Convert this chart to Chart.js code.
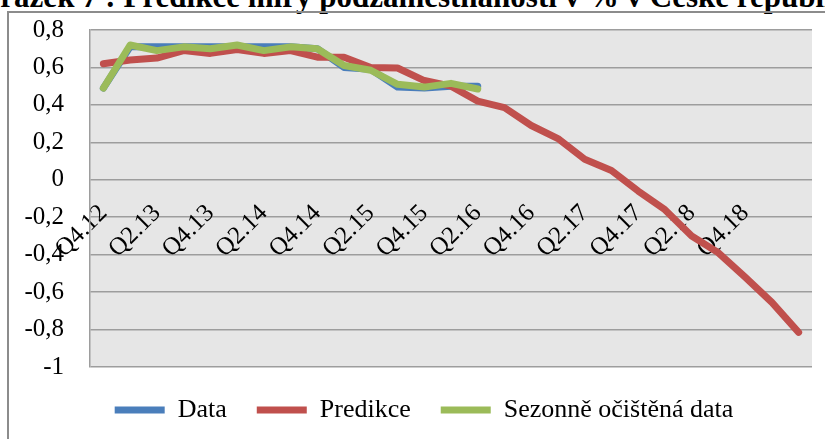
<!DOCTYPE html>
<html>
<head>
<meta charset="utf-8">
<script src="https://cdn.jsdelivr.net/npm/chart.js@4"></script>
<style>
  html, body { margin: 0; padding: 0; background: #fff; overflow: hidden; }
  #page { position: relative; width: 825px; height: 439px; overflow: hidden; }
  #title {
    position: absolute; left: -41px; top: -19px; white-space: nowrap;
    font: bold 31px "Liberation Serif", serif; line-height: 1; color: #000;
  }
  #frame {
    position: absolute; left: 7px; top: 11px; width: 900px; height: 500px;
    border: 2px solid #8c8c8c; box-sizing: border-box;
  }
  #chart { position: absolute; left: 0; top: 0; }
</style>
</head>
<body>
<div id="page">
  <div id="title">Obrázek 7 : Predikce míry podzaměstnanosti v % v České republice</div>
  <div id="frame"></div>
  <canvas id="chart" width="825" height="439"></canvas>
</div>
<script>
// Quarters on the category axis (Q4 2012 .. Q2 2019)
const quarters = [
  'Q4.12', 'Q1.13', 'Q2.13', 'Q3.13', 'Q4.13', 'Q1.14', 'Q2.14', 'Q3.14', 'Q4.14',
  'Q1.15', 'Q2.15', 'Q3.15', 'Q4.15', 'Q1.16', 'Q2.16', 'Q3.16', 'Q4.16',
  'Q1.17', 'Q2.17', 'Q3.17', 'Q4.17', 'Q1.18', 'Q2.18', 'Q3.18', 'Q4.18',
  'Q1.19', 'Q2.19'
];

// Only every other quarter is labelled
const tickLabels = [
  'Q4.12', '', 'Q2.13', '', 'Q4.13', '', 'Q2.14', '', 'Q4.14',
  '', 'Q2.15', '', 'Q4.15', '', 'Q2.16', '', 'Q4.16',
  '', 'Q2.17', '', 'Q4.17', '', 'Q2.18', '', 'Q4.18',
  '', ''
];

const dataValues = [
  0.49, 0.71, 0.71, 0.71, 0.71, 0.71, 0.71, 0.71, 0.70,
  0.60, 0.59, 0.495, 0.49, 0.50, 0.50
];

const predictionValues = [
  0.62, 0.64, 0.65, 0.69, 0.675, 0.695, 0.675, 0.69, 0.655,
  0.655, 0.60, 0.597, 0.53, 0.50, 0.42, 0.385, 0.29,
  0.22, 0.11, 0.05, -0.06, -0.16, -0.30, -0.39, -0.52,
  -0.655, -0.815
];

const seasonalValues = [
  0.49, 0.72, 0.69, 0.71, 0.70, 0.72, 0.69, 0.71, 0.70,
  0.61, 0.585, 0.51, 0.495, 0.515, 0.485
];

const serif = '"Liberation Serif", "Times New Roman", serif';
const gridColor = '#9d9d9d';

// grey plot area like the Excel original
const plotBackground = {
  id: 'plotBackground',
  beforeDraw(chart) {
    const { ctx, chartArea: a } = chart;
    ctx.save();
    ctx.fillStyle = '#e6e6e6';
    ctx.fillRect(a.left, a.top, a.right - a.left, a.bottom - a.top);
    ctx.restore();
  }
};

// the layout padding alone decides where the plot sits
function noScalePadding(scale) {
  scale.paddingTop = 0;
  scale.paddingBottom = 0;
  scale.paddingLeft = 0;
  scale.paddingRight = 0;
}

function lineSeries(label, values, color, order) {
  return {
    label: label,
    data: values,
    borderColor: color,
    backgroundColor: color,
    borderWidth: 7,
    borderCapStyle: 'round',
    borderJoinStyle: 'round',
    pointRadius: 0,
    tension: 0,
    order: order
  };
}

new Chart(document.getElementById('chart'), {
  type: 'line',
  data: {
    labels: quarters,
    datasets: [
      lineSeries('Data', dataValues, '#4a7ebb', 3),
      lineSeries('Predikce', predictionValues, '#c0504d', 2),
      lineSeries('Sezonně očištěná data', seasonalValues, '#9bbb59', 1)
    ]
  },
  options: {
    responsive: false,
    animation: false,
    layout: { padding: { left: 23, right: 0, top: 30, bottom: 6 } },
    plugins: {
      tooltip: { enabled: false },
      legend: {
        position: 'bottom',
        labels: {
          usePointStyle: true,
          pointStyle: 'line',
          pointStyleWidth: 50,
          padding: 30,
          color: '#000',
          font: { family: serif, size: 26 },
          sort: (a, b) => a.datasetIndex - b.datasetIndex
        }
      }
    },
    scales: {
      x: {
        type: 'category',
        position: { y: 0 },
        offset: true,
        afterFit: noScalePadding,
        grid: { display: false, drawTicks: false },
        border: { display: false },
        ticks: {
          autoSkip: false,
          minRotation: 45,
          maxRotation: 45,
          padding: 19,
          color: '#000',
          font: { family: serif, size: 25 },
          callback: (value, index) => tickLabels[index]
        }
      },
      y: {
        min: -1,
        max: 0.8,
        afterFit: (scale) => { noScalePadding(scale); scale.width = 67; },
        grid: { color: gridColor, lineWidth: 1.5, drawTicks: false },
        border: { display: true, color: gridColor, width: 1.5 },
        ticks: {
          stepSize: 0.2,
          padding: 26,
          color: '#000',
          font: { family: serif, size: 25 },
          callback: (v) => String(Math.round(v * 10) / 10).replace('.', ',')
        }
      },
      // empty right-hand axis, only keeps the plot clear of the right edge
      yRight: {
        position: 'right',
        min: -1,
        max: 0.8,
        afterFit: (scale) => { noScalePadding(scale); scale.width = 13; },
        grid: { display: false, drawTicks: false },
        border: { display: false },
        ticks: { display: false }
      }
    }
  },
  plugins: [plotBackground]
});
</script>
</body>
</html>
